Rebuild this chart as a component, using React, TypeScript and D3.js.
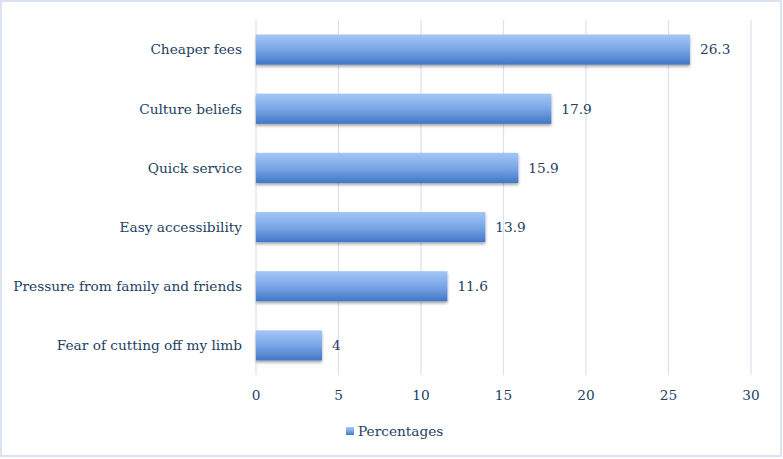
import { useEffect, useRef } from "react";
import * as d3 from "d3";

// data
const categories = [
  "Cheaper fees",
  "Culture beliefs",
  "Quick service",
  "Easy accessibility",
  "Pressure from family and friends",
  "Fear of cutting off my limb",
];
const percentages = [26.3, 17.9, 15.9, 13.9, 11.6, 4];
const xTicks = [0, 5, 10, 15, 20, 25, 30];
const seriesName = "Percentages";

const W = 783;
const H = 459;
const textColor = "#243f62";
const font = "'DejaVu Serif', serif";
const fontSize = "13.7px";

const App = () => {
  const svgRef = useRef<SVGSVGElement>(null);

  useEffect(() => {
    const svg = d3.select(svgRef.current);
    svg.selectAll("*").remove();

    const left = 256;
    const right = 751;
    const top = 20;
    const bottom = 375;

    const x = d3.scaleLinear().domain([0, 30]).range([left, right]);
    const y = d3
      .scaleBand()
      .domain(categories)
      .range([top, bottom])
      .paddingInner(0.49)
      .paddingOuter(0.245);

    const defs = svg.append("defs");
    const grad = defs
      .append("linearGradient")
      .attr("id", "barGrad")
      .attr("x1", 0)
      .attr("y1", 0)
      .attr("x2", 0)
      .attr("y2", 1);
    grad.append("stop").attr("offset", "0%").attr("stop-color", "#a4c6f8");
    grad.append("stop").attr("offset", "50%").attr("stop-color", "#7aa6e6");
    grad.append("stop").attr("offset", "100%").attr("stop-color", "#4177c6");

    defs
      .append("filter")
      .attr("id", "shadow")
      .attr("x", "-5%")
      .attr("y", "-20%")
      .attr("width", "110%")
      .attr("height", "160%")
      .append("feDropShadow")
      .attr("dx", 0)
      .attr("dy", 2)
      .attr("stdDeviation", 1.5)
      .attr("flood-color", "#000")
      .attr("flood-opacity", 0.35);

    // outer frame
    svg
      .append("rect")
      .attr("x", 1)
      .attr("y", 1)
      .attr("width", W - 3)
      .attr("height", H - 4)
      .attr("fill", "#fff")
      .attr("stroke", "#dae3ef")
      .attr("stroke-width", 2);

    // grid
    svg
      .append("g")
      .selectAll("line")
      .data(xTicks)
      .join("line")
      .attr("x1", (d) => x(d))
      .attr("x2", (d) => x(d))
      .attr("y1", top)
      .attr("y2", bottom)
      .attr("stroke", "#d9e2ee")
      .attr("stroke-width", 1.2);

    // x tick labels
    svg
      .append("g")
      .selectAll("text")
      .data(xTicks)
      .join("text")
      .attr("x", (d) => x(d))
      .attr("y", 395)
      .attr("dy", "0.35em")
      .attr("text-anchor", "middle")
      .attr("fill", textColor)
      .style("font-family", font)
      .style("font-size", fontSize)
      .text((d) => d);

    // category labels
    svg
      .append("g")
      .selectAll("text")
      .data(categories)
      .join("text")
      .attr("x", left - 14)
      .attr("y", (d) => y(d)! + y.bandwidth() / 2)
      .attr("dy", "0.35em")
      .attr("text-anchor", "end")
      .attr("fill", textColor)
      .style("font-family", font)
      .style("font-size", fontSize)
      .text((d) => d);

    // bars
    svg
      .append("g")
      .selectAll("rect")
      .data(percentages)
      .join("rect")
      .attr("x", x(0))
      .attr("y", (d, i) => y(categories[i])!)
      .attr("width", (d) => x(d) - x(0))
      .attr("height", y.bandwidth())
      .attr("fill", "url(#barGrad)")
      .attr("filter", "url(#shadow)");

    // value labels
    svg
      .append("g")
      .selectAll("text")
      .data(percentages)
      .join("text")
      .attr("x", (d) => x(d) + 10)
      .attr("y", (d, i) => y(categories[i])! + y.bandwidth() / 2)
      .attr("dy", "0.35em")
      .attr("fill", textColor)
      .style("font-family", font)
      .style("font-size", fontSize)
      .text((d) => d);

    // legend
    const lg = svg.append("g");
    lg.append("rect")
      .attr("x", 346)
      .attr("y", 427)
      .attr("width", 8)
      .attr("height", 8)
      .attr("fill", "url(#barGrad)");
    lg.append("text")
      .attr("x", 358)
      .attr("y", 431)
      .attr("dy", "0.35em")
      .attr("fill", textColor)
      .style("font-family", font)
      .style("font-size", fontSize)
      .text(seriesName);
  }, []);

  return (
    <svg
      ref={svgRef}
      width={W}
      height={H}
      style={{ position: "absolute", left: 0, top: 0, display: "block" }}
    />
  );
};

export default App;
